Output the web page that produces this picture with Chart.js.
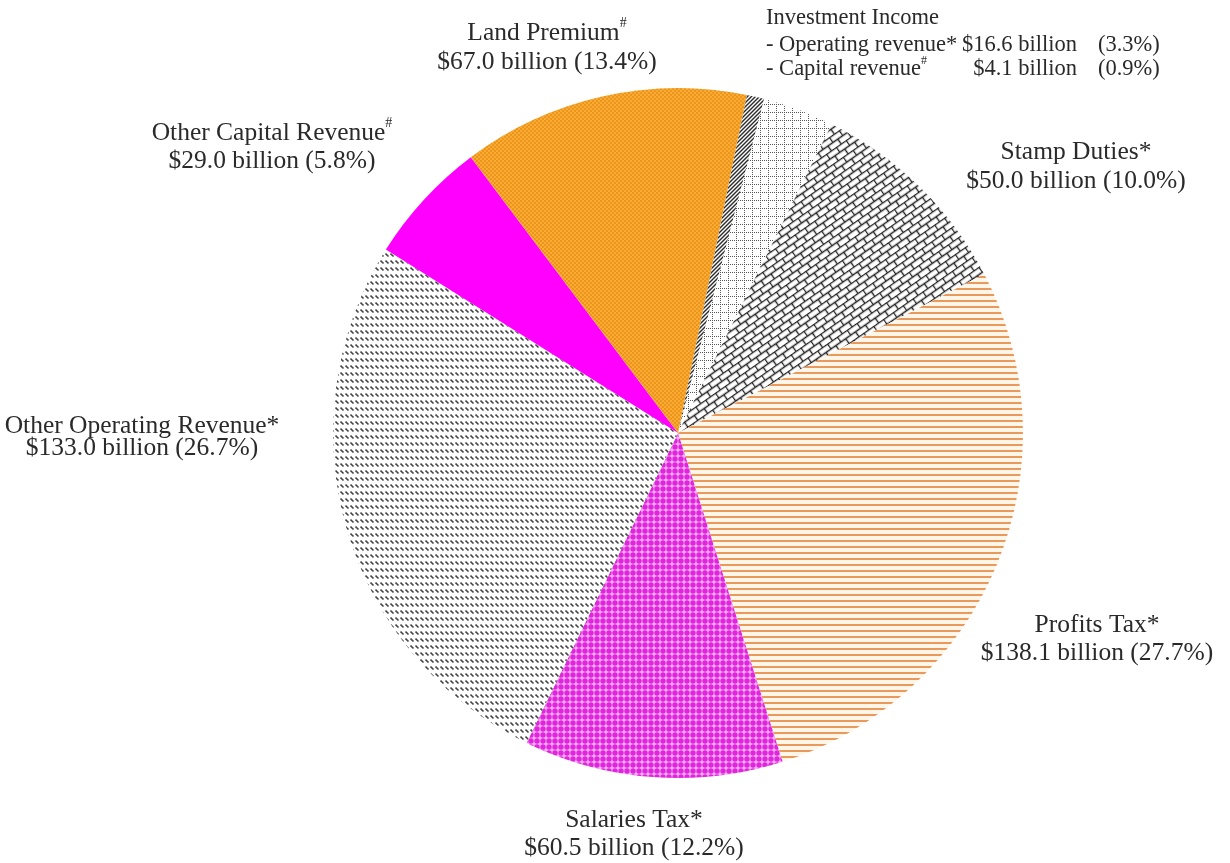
<!DOCTYPE html>
<html>
<head>
<meta charset="utf-8">
<script src="https://cdn.jsdelivr.net/npm/chart.js@4.4.1/dist/chart.umd.min.js"></script>
<style>
  html, body { margin: 0; padding: 0; background: #fff; }
  #wrap { width: 1230px; height: 863px; }
</style>
</head>
<body>
<div id="wrap"><canvas id="revenueChart" width="1230" height="863"></canvas></div>
<script>
// slices, clockwise from just right of 12 o'clock
const categories = [
  'Capital revenue', 'Operating revenue', 'Stamp Duties', 'Profits Tax',
  'Salaries Tax', 'Other Operating Revenue', 'Other Capital Revenue', 'Land Premium'
];
const values = [4.1, 16.6, 50.0, 138.1, 60.5, 133.0, 29.0, 67.0];
const percents = ['0.9%', '3.3%', '10.0%', '27.7%', '12.2%', '26.7%', '5.8%', '13.4%'];
const marks = ['#', '*', '*', '*', '*', '*', '#', '#'];
const groupTitle = 'Investment Income';

function makePattern(w, h, draw, angle) {
  const c = document.createElement('canvas');
  c.width = w; c.height = h;
  const g = c.getContext('2d');
  draw(g, w, h);
  const p = document.createElement('canvas').getContext('2d').createPattern(c, 'repeat');
  if (angle) p.setTransform(new DOMMatrix().rotate(angle));
  return p;
}

const fills = [
  // capital revenue: dense dark weave
  makePattern(4, 4, (g) => {
    g.fillStyle = '#fff'; g.fillRect(0, 0, 4, 4);
    g.strokeStyle = '#2b2b2b'; g.lineWidth = 1.4;
    g.beginPath(); g.moveTo(0, 4); g.lineTo(4, 0); g.stroke();
    g.beginPath(); g.moveTo(-1, 1); g.lineTo(1, -1); g.stroke();
    g.beginPath(); g.moveTo(3, 5); g.lineTo(5, 3); g.stroke();
  }),
  // operating revenue: dotted grid
  makePattern(8, 8, (g) => {
    g.fillStyle = '#fff'; g.fillRect(0, 0, 8, 8);
    g.fillStyle = '#555';
    for (let i = 0; i < 8; i += 2) { g.fillRect(i, 0, 1, 1); g.fillRect(0, i, 1, 1); }
  }),
  // stamp duties: diagonal bricks
  makePattern(12, 12, (g) => {
    g.fillStyle = '#fff'; g.fillRect(0, 0, 12, 12);
    g.strokeStyle = '#222'; g.lineWidth = 1.4;
    g.beginPath();
    g.moveTo(0, 0.5); g.lineTo(12, 0.5);
    g.moveTo(0, 6.5); g.lineTo(12, 6.5);
    g.moveTo(0.5, 0); g.lineTo(0.5, 6.5);
    g.moveTo(6.5, 6.5); g.lineTo(6.5, 12);
    g.stroke();
  }, -35),
  // profits tax: horizontal orange lines
  makePattern(4, 6, (g) => {
    g.fillStyle = '#fff6ea'; g.fillRect(0, 0, 4, 6);
    g.fillStyle = '#e9995c'; g.fillRect(0, 0, 4, 2);
  }),
  // salaries tax: magenta dots
  makePattern(6, 6, (g) => {
    g.fillStyle = '#f6b0f3'; g.fillRect(0, 0, 6, 6);
    g.fillStyle = '#df26dd';
    g.beginPath(); g.arc(3, 3, 2.7, 0, Math.PI * 2); g.fill();
  }),
  // other operating revenue: short slanted dashes
  makePattern(5, 7, (g) => {
    g.fillStyle = '#fff'; g.fillRect(0, 0, 5, 7);
    g.strokeStyle = '#444'; g.lineWidth = 1.6;
    g.beginPath(); g.moveTo(0.5, 1.5); g.lineTo(3.5, 4.5); g.stroke();
  }),
  '#ff00ff',
  // land premium: fine orange dots
  makePattern(4, 4, (g) => {
    g.fillStyle = '#f8ab36'; g.fillRect(0, 0, 4, 4);
    g.fillStyle = '#ec9519';
    g.fillRect(0, 0, 2, 2); g.fillRect(2, 2, 2, 2);
  })
];

const FONT = '"Liberation Serif", "Times New Roman", serif';
const textColor = '#2a2a2a';

function money(i) { return '$' + values[i].toFixed(1) + ' billion'; }

// draw a line of runs, sup runs are small and raised
function drawRuns(ctx, runs, x, y, align, size) {
  const widths = runs.map(r => {
    ctx.font = (r.sup ? Math.round(size * 0.55) : size) + 'px ' + FONT;
    return ctx.measureText(r.t).width;
  });
  const total = widths.reduce((a, b) => a + b, 0);
  let cx = align === 'center' ? x - total / 2 : x;
  runs.forEach((r, k) => {
    ctx.font = (r.sup ? Math.round(size * 0.55) : size) + 'px ' + FONT;
    ctx.fillText(r.t, cx, r.sup ? y - size * 0.38 : y);
    cx += widths[k];
  });
}

function markRun(i) {
  return marks[i] === '#' ? { t: '#', sup: true } : { t: '*' };
}

const labelPlugin = {
  id: 'sliceLabels',
  afterDraw(chart) {
    const ctx = chart.ctx;
    const size = 25.5;
    ctx.save();
    ctx.fillStyle = textColor;
    ctx.textAlign = 'left';
    ctx.textBaseline = 'middle';

    const spots = [
      { i: 7, x: 547, y: 33, gap: 29 },
      { i: 6, x: 272, y: 133, gap: 28 },
      { i: 2, x: 1076, y: 152, gap: 29 },
      { i: 5, x: 142, y: 426, gap: 22 },
      { i: 3, x: 1097, y: 625, gap: 28 },
      { i: 4, x: 634, y: 820, gap: 28 }
    ];
    spots.forEach(s => {
      drawRuns(ctx, [{ t: categories[s.i] }, markRun(s.i)], s.x, s.y, 'center', size);
      drawRuns(ctx, [{ t: money(s.i) + ' (' + percents[s.i] + ')' }], s.x, s.y + s.gap, 'center', size);
    });

    // investment income block
    const bx = 766, small = 22.5;
    ctx.font = small + 'px ' + FONT;
    ctx.fillText(groupTitle, bx, 18);
    [1, 0].forEach((i, row) => {
      const y = 45 + row * 24;
      drawRuns(ctx, [{ t: '- ' + categories[i] }, markRun(i)], bx, y, 'left', small);
      ctx.font = small + 'px ' + FONT;
      ctx.textAlign = 'right';
      ctx.fillText(money(i), 1077, y);
      ctx.textAlign = 'left';
      ctx.fillText('(' + percents[i] + ')', 1098, y);
    });
    ctx.restore();
  }
};

new Chart(document.getElementById('revenueChart'), {
  type: 'pie',
  data: {
    labels: categories,
    datasets: [{
      data: values,
      backgroundColor: fills,
      borderWidth: 0
    }]
  },
  options: {
    responsive: false,
    animation: false,
    rotation: 11.5,
    layout: { padding: { top: 88, bottom: 85, left: 333, right: 207 } },
    plugins: {
      legend: { display: false },
      tooltip: { enabled: false }
    }
  },
  plugins: [labelPlugin]
});
</script>
</body>
</html>
